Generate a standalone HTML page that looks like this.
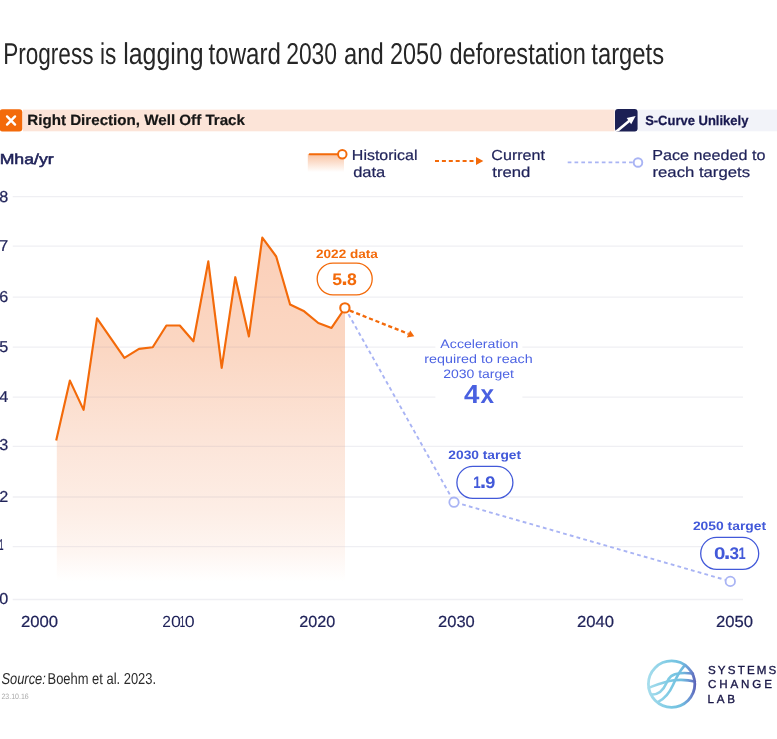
<!DOCTYPE html>
<html lang="en">
<head>
<meta charset="utf-8">
<title>Progress is lagging toward 2030 and 2050 deforestation targets</title>
<style>
html,body{margin:0;padding:0;background:#fff;}
body{width:777px;height:739px;overflow:hidden;font-family:"Liberation Sans",sans-serif;}
svg{display:block;will-change:transform;font-family:"Liberation Sans",sans-serif;}
</style>
</head>
<body>
<svg width="777" height="739" viewBox="0 0 777 739" text-rendering="geometricPrecision">
<defs>
<linearGradient id="areaG" gradientUnits="userSpaceOnUse" x1="0" y1="237" x2="0" y2="581">
<stop offset="0" stop-color="#fbcfb8"/>
<stop offset="0.33" stop-color="#fbd7c3"/>
<stop offset="0.6" stop-color="#fce5d9"/>
<stop offset="0.8" stop-color="#fdeee6"/>
<stop offset="0.92" stop-color="#fef6f2"/>
<stop offset="1" stop-color="#ffffff"/>
</linearGradient>
<linearGradient id="legG" gradientUnits="userSpaceOnUse" x1="0" y1="154" x2="0" y2="172">
<stop offset="0" stop-color="#f9c2a1"/>
<stop offset="1" stop-color="#ffffff"/>
</linearGradient>
<linearGradient id="logoG" gradientUnits="userSpaceOnUse" x1="647" y1="0" x2="696" y2="0">
<stop offset="0" stop-color="#a8deed"/>
<stop offset="0.5" stop-color="#7ac8e3"/>
<stop offset="0.72" stop-color="#70bcdf"/>
<stop offset="0.87" stop-color="#6b92d2"/>
<stop offset="1" stop-color="#595fb6"/>
</linearGradient>
<clipPath id="areaClip"><path d="M56.8,438 L69.9,380.6 L83.6,409.9 L97.0,318.4 L110.7,338.2 L124.4,357.9 L139.0,348.9 L152.7,347.3 L166.4,325.5 L179.8,325.5 L193.4,341.3 L208.3,261.4 L221.7,367.8 L235.3,277.2 L248.9,336.4 L262.3,237.6 L276.2,256.5 L290.1,304.5 L304.2,311.3 L318.3,323.0 L331.5,327.9 L345.0,308.0 L345.0,581 L56.8,581 Z"/></clipPath>
<clipPath id="navyClip"><rect x="615" y="109.1" width="22.6" height="22.5" rx="3"/></clipPath>
</defs>
<rect width="777" height="739" fill="#ffffff"/>

<!-- title -->
<text y="64" font-size="30.2" fill="#262626"><tspan x="3.15" textLength="90.37" lengthAdjust="spacingAndGlyphs">Progress</tspan> <tspan x="99.99" textLength="16.33" lengthAdjust="spacingAndGlyphs">is</tspan> <tspan x="123.22" textLength="80.28" lengthAdjust="spacingAndGlyphs">lagging</tspan> <tspan x="208.54" textLength="72.32" lengthAdjust="spacingAndGlyphs">toward</tspan> <tspan x="286.15" textLength="50.95" lengthAdjust="spacingAndGlyphs">2030</tspan> <tspan x="343.99" textLength="39.64" lengthAdjust="spacingAndGlyphs">and</tspan> <tspan x="390.02" textLength="52.20" lengthAdjust="spacingAndGlyphs">2050</tspan> <tspan x="449.51" textLength="136.32" lengthAdjust="spacingAndGlyphs">deforestation</tspan> <tspan x="591.34" textLength="72.72" lengthAdjust="spacingAndGlyphs">targets</tspan></text>

<!-- status bar -->
<rect x="23" y="109.6" width="591.5" height="21.7" fill="#fce4d8"/>
<rect x="638.2" y="109.6" width="139" height="21.7" fill="#f2f3f9"/>
<rect x="-0.4" y="109.3" width="22.7" height="22.2" rx="3" fill="#f36a0a"/>
<path d="M7.05,116.4 L15.05,124.6 M15.05,116.4 L7.05,124.6" stroke="#fff" stroke-width="2.4" stroke-linecap="round" fill="none"/>
<text x="27.29" y="125" font-size="14.8" fill="#161616" font-weight="bold" stroke="#161616" stroke-width="0.2" textLength="217.69" lengthAdjust="spacingAndGlyphs">Right Direction, Well Off Track</text>
<rect x="615" y="109.1" width="22.6" height="22.5" rx="3" fill="#1c2054"/>
<g clip-path="url(#navyClip)">
<path d="M613.2,134.2 L629.4,120.8" stroke="#fff" stroke-width="2.6" fill="none"/>
<path d="M635.6,116 L626.7,118 L631.2,124.2 Z" fill="#fff"/>
</g>
<text x="645.13" y="124.7" font-size="13.4" fill="#18184f" font-weight="bold" stroke="#18184f" stroke-width="0.25" textLength="103.24" lengthAdjust="spacingAndGlyphs">S-Curve Unlikely</text>

<!-- unit + legend -->
<text x="-0.35" y="164.3" font-size="14.5" fill="#1f2259" stroke="#1f2259" stroke-width="0.55" textLength="53.94" lengthAdjust="spacingAndGlyphs">Mha/yr</text>

<rect x="307.8" y="154.2" width="36.2" height="18" fill="url(#legG)"/>
<line x1="309.7" y1="154.2" x2="338" y2="154.2" stroke="#f36a0a" stroke-width="2" stroke-linecap="round"/>
<circle cx="342.3" cy="154.2" r="4.25" fill="#fff" stroke="#f36a0a" stroke-width="1.95"/>
<text x="351.89" y="159.8" font-size="14.5" fill="#1f2259" stroke="#1f2259" stroke-width="0.22" textLength="65.58" lengthAdjust="spacingAndGlyphs">Historical</text>
<text x="353.21" y="177.2" font-size="14.5" fill="#1f2259" stroke="#1f2259" stroke-width="0.22" textLength="32.09" lengthAdjust="spacingAndGlyphs">data</text>

<line x1="435" y1="161" x2="476" y2="161" stroke="#f36a0a" stroke-width="2" stroke-dasharray="4 2.9"/>
<path d="M476,157 L483.3,161 L476,165 Z" fill="#f36a0a"/>
<text x="491.38" y="159.8" font-size="14.5" fill="#1f2259" stroke="#1f2259" stroke-width="0.22" textLength="53.53" lengthAdjust="spacingAndGlyphs">Current</text>
<text x="492.35" y="177.2" font-size="14.5" fill="#1f2259" stroke="#1f2259" stroke-width="0.22" textLength="38.03" lengthAdjust="spacingAndGlyphs">trend</text>

<line x1="567.7" y1="162.3" x2="633.5" y2="162.3" stroke="#a9b4f4" stroke-width="1.7" stroke-dasharray="3.7 3.12"/>
<circle cx="638.0" cy="162.5" r="4.3" fill="#fff" stroke="#a9b4f4" stroke-width="1.9"/>
<text x="652.28" y="159.8" font-size="14.5" fill="#1f2259" stroke="#1f2259" stroke-width="0.22" textLength="113.10" lengthAdjust="spacingAndGlyphs">Pace needed to</text>
<text x="652.49" y="177.2" font-size="14.5" fill="#1f2259" stroke="#1f2259" stroke-width="0.22" textLength="97.51" lengthAdjust="spacingAndGlyphs">reach targets</text>

<!-- grid + y labels -->
<line x1="12.7" y1="196.7" x2="743" y2="196.7" stroke="#efeff3" stroke-width="1.3"/>
<text x="-0.8" y="202" font-size="15.8" fill="#1f2259" stroke="#1f2259" stroke-width="0.22" textLength="9.0" lengthAdjust="spacingAndGlyphs">8</text>
<line x1="12.7" y1="246.1" x2="743" y2="246.1" stroke="#efeff3" stroke-width="1.3"/>
<text x="-0.8" y="251" font-size="15.8" fill="#1f2259" stroke="#1f2259" stroke-width="0.22" textLength="9.0" lengthAdjust="spacingAndGlyphs">7</text>
<line x1="12.7" y1="297.1" x2="743" y2="297.1" stroke="#efeff3" stroke-width="1.3"/>
<text x="-0.8" y="302" font-size="15.8" fill="#1f2259" stroke="#1f2259" stroke-width="0.22" textLength="9.0" lengthAdjust="spacingAndGlyphs">6</text>
<line x1="12.7" y1="347.2" x2="743" y2="347.2" stroke="#efeff3" stroke-width="1.3"/>
<text x="-0.8" y="352" font-size="15.8" fill="#1f2259" stroke="#1f2259" stroke-width="0.22" textLength="9.0" lengthAdjust="spacingAndGlyphs">5</text>
<line x1="12.7" y1="397.1" x2="743" y2="397.1" stroke="#efeff3" stroke-width="1.3"/>
<text x="-0.8" y="402" font-size="15.8" fill="#1f2259" stroke="#1f2259" stroke-width="0.22" textLength="9.0" lengthAdjust="spacingAndGlyphs">4</text>
<line x1="12.7" y1="446.4" x2="743" y2="446.4" stroke="#efeff3" stroke-width="1.3"/>
<text x="-0.8" y="450" font-size="15.8" fill="#1f2259" stroke="#1f2259" stroke-width="0.22" textLength="9.0" lengthAdjust="spacingAndGlyphs">3</text>
<line x1="12.7" y1="497.0" x2="743" y2="497.0" stroke="#efeff3" stroke-width="1.3"/>
<text x="-0.8" y="502" font-size="15.8" fill="#1f2259" stroke="#1f2259" stroke-width="0.22" textLength="9.0" lengthAdjust="spacingAndGlyphs">2</text>
<line x1="12.7" y1="546.6" x2="743" y2="546.6" stroke="#efeff3" stroke-width="1.3"/>
<text x="-0.8" y="550" font-size="15.8" fill="#1f2259" stroke="#1f2259" stroke-width="0.22" textLength="4.3" lengthAdjust="spacingAndGlyphs">1</text>
<line x1="12.7" y1="599.5" x2="743" y2="599.5" stroke="#efeff3" stroke-width="1.3"/>
<text x="-0.8" y="604.4" font-size="15.8" fill="#1f2259" stroke="#1f2259" stroke-width="0.22" textLength="9.0" lengthAdjust="spacingAndGlyphs">0</text>

<!-- x labels -->
<text x="20.96" y="627.3" font-size="16" fill="#1f2259" stroke="#1f2259" stroke-width="0.22" textLength="37.09" lengthAdjust="spacingAndGlyphs">2000</text>
<text x="299.19" y="627.3" font-size="16" fill="#1f2259" stroke="#1f2259" stroke-width="0.22" textLength="35.94" lengthAdjust="spacingAndGlyphs">2020</text>
<text x="438.07" y="627.3" font-size="16" fill="#1f2259" stroke="#1f2259" stroke-width="0.22" textLength="36.67" lengthAdjust="spacingAndGlyphs">2030</text>
<text x="577.06" y="627.3" font-size="16" fill="#1f2259" stroke="#1f2259" stroke-width="0.22" textLength="36.99" lengthAdjust="spacingAndGlyphs">2040</text>
<text x="715.96" y="627.3" font-size="16" fill="#1f2259" stroke="#1f2259" stroke-width="0.22" textLength="36.99" lengthAdjust="spacingAndGlyphs">2050</text>
<text y="627.2" font-size="16" fill="#1f2259"><tspan x="162.32" textLength="8.67" lengthAdjust="spacingAndGlyphs">2</tspan><tspan x="171.11" textLength="9.89" lengthAdjust="spacingAndGlyphs">0</tspan><tspan x="179.40" textLength="5.80" lengthAdjust="spacingAndGlyphs">1</tspan><tspan x="184.81" textLength="9.89" lengthAdjust="spacingAndGlyphs">0</tspan></text>

<!-- area + line -->
<path d="M56.8,438 L69.9,380.6 L83.6,409.9 L97.0,318.4 L110.7,338.2 L124.4,357.9 L139.0,348.9 L152.7,347.3 L166.4,325.5 L179.8,325.5 L193.4,341.3 L208.3,261.4 L221.7,367.8 L235.3,277.2 L248.9,336.4 L262.3,237.6 L276.2,256.5 L290.1,304.5 L304.2,311.3 L318.3,323.0 L331.5,327.9 L345.0,308.0 L345.0,581 L56.8,581 Z" fill="url(#areaG)"/>
<g clip-path="url(#areaClip)">
<line x1="56.2" y1="196.7" x2="345" y2="196.7" stroke="#5a5a8c" stroke-opacity="0.085" stroke-width="1.3"/>
<line x1="56.2" y1="246.1" x2="345" y2="246.1" stroke="#5a5a8c" stroke-opacity="0.085" stroke-width="1.3"/>
<line x1="56.2" y1="297.1" x2="345" y2="297.1" stroke="#5a5a8c" stroke-opacity="0.085" stroke-width="1.3"/>
<line x1="56.2" y1="347.2" x2="345" y2="347.2" stroke="#5a5a8c" stroke-opacity="0.085" stroke-width="1.3"/>
<line x1="56.2" y1="397.1" x2="345" y2="397.1" stroke="#5a5a8c" stroke-opacity="0.085" stroke-width="1.3"/>
<line x1="56.2" y1="446.4" x2="345" y2="446.4" stroke="#5a5a8c" stroke-opacity="0.085" stroke-width="1.3"/>
<line x1="56.2" y1="497.0" x2="345" y2="497.0" stroke="#5a5a8c" stroke-opacity="0.085" stroke-width="1.3"/>
<line x1="56.2" y1="546.6" x2="345" y2="546.6" stroke="#5a5a8c" stroke-opacity="0.085" stroke-width="1.3"/>
<line x1="56.2" y1="599.5" x2="345" y2="599.5" stroke="#5a5a8c" stroke-opacity="0.085" stroke-width="1.3"/>
</g>
<path d="M56.2,440.4 L69.9,380.6 L83.6,409.9 L97.0,318.4 L110.7,338.2 L124.4,357.9 L139.0,348.9 L152.7,347.3 L166.4,325.5 L179.8,325.5 L193.4,341.3 L208.3,261.4 L221.7,367.8 L235.3,277.2 L248.9,336.4 L262.3,237.6 L276.2,256.5 L290.1,304.5 L304.2,311.3 L318.3,323.0 L331.5,327.9 L345.0,308.0" fill="none" stroke="#f36a0a" stroke-width="2.15" stroke-linejoin="round" stroke-linecap="butt"/>

<!-- pace needed dotted -->
<path d="M345,308 L454,502 L730.3,581.3" fill="none" stroke="#a9b4f4" stroke-width="1.9" stroke-dasharray="3.8 3.2"/>

<!-- current trend arrow -->
<line x1="349.8" y1="310.6" x2="408.6" y2="333.9" stroke="#f36a0a" stroke-width="2.3" stroke-dasharray="4.1 2.8"/>
<path d="M414.3,336.2 L406.8,337.6 L410.2,330.5 Z" fill="#f36a0a"/>

<!-- 2022 marker -->
<circle cx="344.9" cy="307.9" r="4.65" fill="#fff" stroke="#f36a0a" stroke-width="2.1"/>
<text x="316.03" y="257.6" font-size="12.2" fill="#f36a0a" font-weight="bold" textLength="61.88" lengthAdjust="spacingAndGlyphs">2022 data</text>
<rect x="317.2" y="263.2" width="55" height="31.6" rx="15.8" fill="#fff" stroke="#f36a0a" stroke-width="1.3"/>
<text y="284.6" font-size="16.8" font-weight="bold" fill="#f36a0a"><tspan x="332.26" textLength="9.84" lengthAdjust="spacingAndGlyphs">5</tspan><tspan x="341.31" font-size="23.4">.</tspan><tspan x="347.14" textLength="9.80" lengthAdjust="spacingAndGlyphs">8</tspan></text>

<!-- acceleration annotation -->
<rect x="435.4" y="336" width="87" height="72" fill="#fff"/>
<text x="440.37" y="348.2" font-size="12.2" fill="#4d63e3" textLength="77.95" lengthAdjust="spacingAndGlyphs">Acceleration</text>
<text x="424.35" y="362.8" font-size="12.2" fill="#4d63e3" textLength="108.38" lengthAdjust="spacingAndGlyphs">required to reach</text>
<text x="443.20" y="377.6" font-size="12.2" fill="#4d63e3" textLength="70.81" lengthAdjust="spacingAndGlyphs">2030 target</text>
<text y="402.8" font-size="26.2" font-weight="bold" fill="#4960e0"><tspan x="464.08" textLength="15.37" lengthAdjust="spacingAndGlyphs">4</tspan><tspan x="480.53" textLength="13.54" lengthAdjust="spacingAndGlyphs">x</tspan></text>

<!-- 2030 target -->
<text x="448.32" y="459.4" font-size="12.2" fill="#4259d9" font-weight="bold" textLength="72.75" lengthAdjust="spacingAndGlyphs">2030 target</text>
<rect x="456.9" y="466.4" width="56" height="32" rx="16" fill="#fff" stroke="#4259d9" stroke-width="1.3"/>
<text y="488.1" font-size="16.8" font-weight="bold" fill="#4259d9"><tspan x="473.15" textLength="7.53" lengthAdjust="spacingAndGlyphs">1</tspan><tspan x="479.81" font-size="23.4">.</tspan><tspan x="485.17" textLength="10.10" lengthAdjust="spacingAndGlyphs">9</tspan></text>
<circle cx="454" cy="502.2" r="4.7" fill="#fff" stroke="#a9b4f4" stroke-width="1.8"/>

<!-- 2050 target -->
<text x="692.92" y="530.2" font-size="12.2" fill="#4259d9" font-weight="bold" textLength="73.25" lengthAdjust="spacingAndGlyphs">2050 target</text>
<rect x="700.7" y="537.4" width="58" height="32" rx="16" fill="#fff" stroke="#4259d9" stroke-width="1.3"/>
<text y="558.7" font-size="16.8" font-weight="bold" fill="#4259d9"><tspan x="714.09" textLength="11.46" lengthAdjust="spacingAndGlyphs">0</tspan><tspan x="723.76" font-size="24.1">.</tspan><tspan x="729.61" textLength="9.51" lengthAdjust="spacingAndGlyphs">3</tspan><tspan x="738.39" textLength="7.17" lengthAdjust="spacingAndGlyphs">1</tspan></text>
<circle cx="730.3" cy="581.4" r="4.7" fill="#fff" stroke="#a9b4f4" stroke-width="1.8"/>

<!-- source -->
<text y="684" font-size="15.8" fill="#2b2b2b"><tspan x="1.44" font-style="italic" textLength="44.38" lengthAdjust="spacingAndGlyphs">Source:</tspan> <tspan x="47.54" textLength="108.54" lengthAdjust="spacingAndGlyphs">Boehm et al. 2023.</tspan></text>
<text x="1.45" y="699" font-size="7.8" fill="#a9a9a9" textLength="27.26" lengthAdjust="spacingAndGlyphs">23.10.16</text>

<!-- logo -->
<g fill="none" stroke="url(#logoG)" stroke-width="2.6" stroke-linecap="round">
<circle cx="671.6" cy="684.1" r="23.2" stroke-width="2.8"/>
<path d="M658.2,701.9 C664,699 669,694 673,685 C676,678 679,672 684.2,665.8"/>
<path d="M650.9,694.6 C658,695 663,691 666.5,683 C669,677 672,674 680,673.2 C685,672.8 690,673.2 692.9,673.5"/>
<path d="M648.9,687.7 C656,685 664,681.5 674,680.2 C682,679.4 690,680.3 694.9,681.6"/>
</g>
<g stroke="#1a1848" stroke-width="0.35">
<text x="707.97" y="674.3" font-size="11.6" fill="#1a1848" textLength="68.36" lengthAdjust="spacing">SYSTEMS</text>
<text x="707.91" y="688.4" font-size="11.6" fill="#1a1848" textLength="63.99" lengthAdjust="spacing">CHANGE</text>
<text x="707.55" y="702.5" font-size="11.6" fill="#1a1848" textLength="27.36" lengthAdjust="spacing">LAB</text>
</g>
</svg>
</body>
</html>
